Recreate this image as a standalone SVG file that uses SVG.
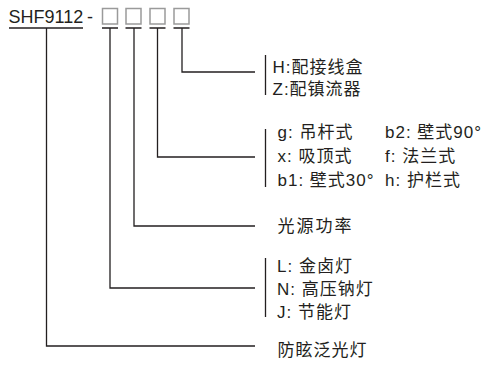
<svg xmlns="http://www.w3.org/2000/svg" width="494" height="367" viewBox="0 0 494 367">
<style>
text{font-family:"Liberation Sans","Noto Sans CJK SC",sans-serif;font-size:17px;fill:#231f20;letter-spacing:1px}
.title{font-size:18px;letter-spacing:0}
.box{fill:#fff;stroke:#9a9a9a;stroke-width:1.5}
.ln{fill:none;stroke:#231f20;stroke-width:1.3}
</style>
<rect width="494" height="367" fill="#fff"/>
<g id="code">
<text class="title" x="8.5" y="22.5">SHF9112</text>
<text class="title" x="87" y="22.5">-</text>
<rect class="box" x="102.5" y="8.5" width="15" height="15.5"/>
<rect class="box" x="126" y="8.5" width="15" height="15.5"/>
<rect class="box" x="150" y="8.5" width="15" height="15.5"/>
<rect class="box" x="174" y="8.5" width="15" height="15.5"/>
</g>
<g id="connectors">
<path class="ln" d="M9 28H83M102 28H118M125.5 28H141.5M149.5 28H165.5M173.5 28H189.5"/>
<path class="ln" d="M182 28V72H255"/>
<path class="ln" d="M157.5 28V157H255"/>
<path class="ln" d="M134 28V226H255"/>
<path class="ln" d="M110 28V288H255"/>
<path class="ln" d="M46.5 28V346H255"/>
<path class="ln" d="M265.5 55V95M265.5 129V187M265.5 258V317"/>
</g>
<g id="accessory">
<text x="272.5" y="72.5">H:配接线盒</text>
<text x="272.5" y="95">Z:配镇流器</text>
</g>
<g id="mounting">
<text x="277.5" y="138">g: 吊杆式</text>
<text x="277.5" y="162">x: 吸顶式</text>
<text x="277.5" y="186">b1: 壁式30°</text>
<text x="385" y="138">b2: 壁式90°</text>
<text x="385" y="162">f: 法兰式</text>
<text x="385" y="186">h: 护栏式</text>
</g>
<g id="power">
<text x="277.5" y="232" style="letter-spacing:2px">光源功率</text>
</g>
<g id="lamp">
<text x="277" y="272">L: 金卤灯</text>
<text x="277" y="295">N: 高压钠灯</text>
<text x="277" y="318">J: 节能灯</text>
</g>
<g id="product">
<text x="277.5" y="356">防眩泛光灯</text>
</g>
</svg>
